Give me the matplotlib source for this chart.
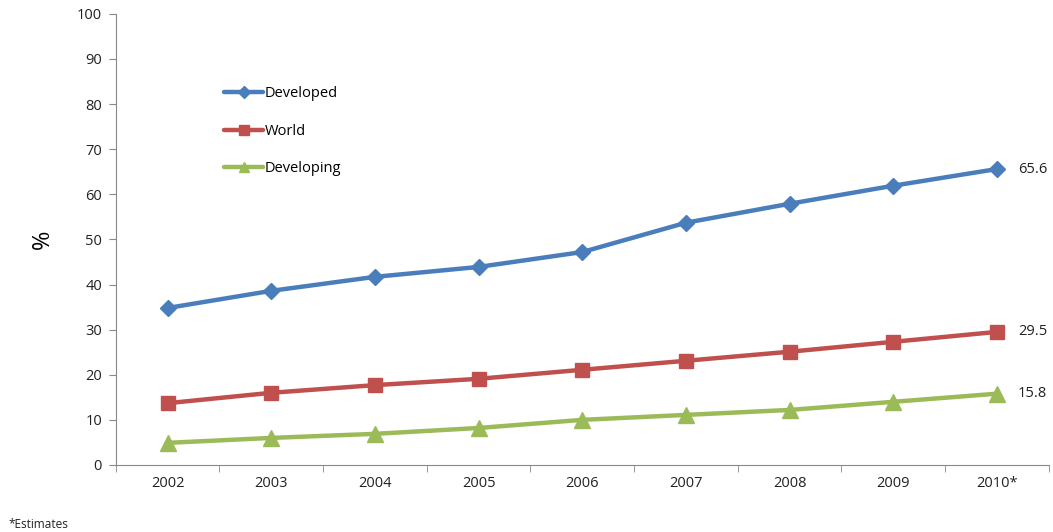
import matplotlib.pyplot as plt

years = ['2002', '2003', '2004', '2005', '2006', '2007', '2008', '2009', '2010*']
developed = [34.8, 38.6, 41.7, 43.9, 47.2, 53.7, 57.9, 61.9, 65.6]
world = [13.7, 16.0, 17.7, 19.1, 21.1, 23.1, 25.1, 27.3, 29.5]
developing = [4.9, 6.0, 6.9, 8.2, 10.0, 11.1, 12.2, 14.0, 15.8]

series = [
    ('Developed', developed, '#4A7EBB', 'D', 8.5),
    ('World', world, '#C0504D', 's', 10.5),
    ('Developing', developing, '#9BBB59', '^', 11),
]

plt.rcParams['font.family'] = ['Open Sans', 'DejaVu Sans']
fs = 10.5

fig = plt.figure(figsize=(10.53, 5.32), dpi=100)
ax = fig.add_axes([0.110, 0.126, 0.886, 0.848])

x = list(range(len(years)))
for name, vals, color, marker, ms in series:
    ax.plot(x, vals, color=color, lw=3.2, marker=marker, markersize=ms,
            label=name, solid_capstyle='round')
    ax.annotate(f'{vals[-1]:.1f}', (x[-1], vals[-1]), xytext=(15, 0),
                textcoords='offset points', va='center', fontsize=fs,
                color='#222222')

ax.set_xlim(-0.5, len(years) - 0.5)
ax.set_ylim(0, 100)
ax.set_yticks(range(0, 101, 10))
ax.set_xticks(x)
ax.set_xticklabels(years)
ax.set_xticks([i + 0.5 for i in range(-1, len(years))], minor=True)
ax.tick_params(axis='x', which='major', length=0, pad=8, labelsize=fs,
               labelcolor='#222222')
ax.tick_params(axis='x', which='minor', length=5, color='#888888')
ax.tick_params(axis='y', length=5, color='#888888', labelsize=fs, pad=5,
               labelcolor='#222222')

for s in ['top', 'right']:
    ax.spines[s].set_visible(False)
for s in ['left', 'bottom']:
    ax.spines[s].set_color('#888888')

ax.set_ylabel('%', fontsize=17, labelpad=16)

ax.legend(loc='upper left', bbox_to_anchor=(0.108, 0.856), frameon=False,
          handlelength=2.7, handletextpad=0.1, labelspacing=1.55,
          fontsize=fs, borderpad=0, markerscale=0.7)

fig.text(0.008, 0.008, '*Estimates', fontsize=8.5, color='#222222')

fig.savefig('out.png', dpi=100)
